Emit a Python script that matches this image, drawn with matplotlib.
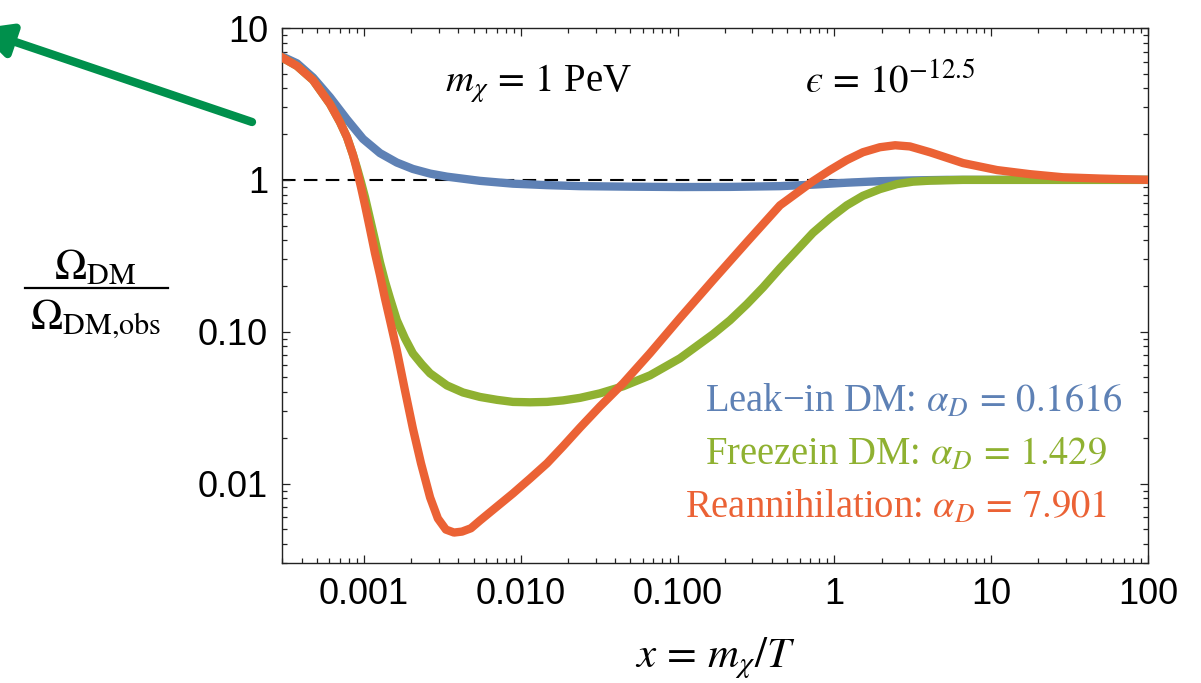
import matplotlib
matplotlib.use("Agg")
import matplotlib.pyplot as plt
from matplotlib.lines import Line2D
from matplotlib.ticker import LogLocator, NullFormatter

plt.rcParams['mathtext.fontset'] = 'stix'

# curves: x = m_chi/T, y = Omega_DM / Omega_DM,obs
leak_x = [3.0e-4, 3.74e-4, 4.73e-4, 6.07e-4, 7.79e-4, 9.86e-4, 1.265e-3, 1.62e-3,
          2.05e-3, 2.64e-3, 3.38e-3, 5.49e-3, 8.91e-3, 0.0147, 0.0239, 0.0497,
          0.1035, 0.216, 0.45, 0.73, 1.2, 1.95, 3.17, 5.22, 100]
leak_y = [6.5, 5.85, 4.72, 3.5, 2.5, 1.86, 1.5, 1.3,
          1.18, 1.1, 1.05, 0.985, 0.944, 0.923, 0.909, 0.902,
          0.897, 0.899, 0.909, 0.93, 0.958, 0.98, 0.992, 1.0, 1.0]

freeze_x = [3.0e-4, 3.74e-4, 4.73e-4, 6.07e-4, 7.03e-4, 7.79e-4, 8.51e-4, 9.02e-4,
            9.57e-4, 1.015e-3, 1.09e-3, 1.175e-3, 1.265e-3, 1.36e-3, 1.465e-3,
            1.62e-3, 1.825e-3, 2.05e-3, 2.34e-3, 2.64e-3, 3.38e-3, 4.28e-3,
            5.49e-3, 7.05e-3, 8.91e-3, 0.01146, 0.0147, 0.0186, 0.0239, 0.032,
            0.0449, 0.0667, 0.1035, 0.168, 0.216, 0.277, 0.351, 0.45, 0.577,
            0.73, 0.938, 1.2, 1.52, 1.95, 2.51, 3.17, 4.07, 6.61, 100]
freeze_y = [6.4, 5.62, 4.54, 3.16, 2.4, 1.91, 1.46, 1.2,
            0.966, 0.769, 0.56, 0.401, 0.286, 0.215, 0.166,
            0.119, 0.0904, 0.072, 0.0609, 0.0532, 0.0443, 0.0398,
            0.0372, 0.0356, 0.0345, 0.0343, 0.0345, 0.0353, 0.0367, 0.0393,
            0.0437, 0.0516, 0.0668, 0.0962, 0.119, 0.152, 0.196, 0.262, 0.345,
            0.448, 0.56, 0.68, 0.785, 0.869, 0.938, 0.973, 0.988, 1.0, 1.0]

reann_x = [3.0e-4, 3.74e-4, 4.73e-4, 6.07e-4, 7.03e-4, 7.79e-4, 8.51e-4, 9.02e-4,
           9.57e-4, 1.015e-3, 1.09e-3, 1.175e-3, 1.265e-3, 1.36e-3, 1.465e-3,
           1.62e-3, 1.825e-3, 2.05e-3, 2.31e-3, 2.64e-3, 2.96e-3, 3.33e-3,
           3.75e-3, 4.22e-3, 4.81e-3, 5.49e-3, 7.05e-3, 8.91e-3, 0.01146,
           0.0147, 0.0186, 0.0239, 0.032, 0.0449, 0.0667, 0.1035, 0.168, 0.277,
           0.45, 0.73, 0.938, 1.2, 1.52, 1.95, 2.44, 3.03, 4.07, 6.61, 10.9,
           17.7, 28.7, 49.4, 100]
reann_y = [6.4, 5.62, 4.54, 3.16, 2.4, 1.91, 1.46, 1.16,
           0.895, 0.681, 0.48, 0.329, 0.236, 0.166, 0.119,
           0.0753, 0.0411, 0.0231, 0.0136, 0.0081, 0.00589, 0.00498,
           0.00476, 0.00483, 0.00508, 0.00571, 0.00706, 0.00861, 0.0108,
           0.0136, 0.0176, 0.0234, 0.0322, 0.0457, 0.0722, 0.123, 0.218, 0.39,
           0.68, 0.98, 1.16, 1.35, 1.52, 1.64, 1.69, 1.66, 1.52, 1.29, 1.16,
           1.09, 1.04, 1.02, 1.0]

x_ticks = [1e-3, 1e-2, 1e-1, 1, 10, 100]
x_tick_labels = ['0.001', '0.010', '0.100', '1', '10', '100']
y_ticks = [0.01, 0.1, 1, 10]
y_tick_labels = ['0.01', '0.10', '1', '10']

labels = ['Leak\u2212in DM: $\\alpha_D\\,=\\,0.1616$',
          'Freezein DM: $\\alpha_D\\,=\\,1.429$',
          'Reannihilation: $\\alpha_D\\,=\\,7.901$']
colors = ['#5E81B5', '#8FB131', '#EB6235']

W, H = 1201, 683
fig = plt.figure(figsize=(W / 100, H / 100), dpi=100)
ax = fig.add_axes([282 / W, (H - 563) / H, (1148 - 282) / W, (563 - 28) / H])

ax.axhline(1.0, color='black', lw=1.5, linestyle=(0, (6.5, 4)), zorder=1)
ax.plot(leak_x, leak_y, color=colors[0], lw=6, solid_joinstyle='round', zorder=2)
ax.plot(freeze_x, freeze_y, color=colors[1], lw=6, solid_joinstyle='round', zorder=3)
ax.plot(reann_x, reann_y, color=colors[2], lw=6, solid_joinstyle='round', zorder=4)

ax.set_xscale('log')
ax.set_yscale('log')
ax.set_xlim(3e-4, 100)
ax.set_ylim(3e-3, 10)

ax.set_xticks(x_ticks, x_tick_labels)
ax.set_yticks(y_ticks, y_tick_labels)
ax.xaxis.set_minor_locator(LogLocator(base=10, subs=range(2, 10), numticks=20))
ax.yaxis.set_minor_locator(LogLocator(base=10, subs=range(2, 10), numticks=20))
ax.xaxis.set_minor_formatter(NullFormatter())
ax.yaxis.set_minor_formatter(NullFormatter())
ax.tick_params(which='both', direction='in', top=True, right=True, width=0.9, color='#222222')
ax.tick_params(which='major', length=6, labelsize=26, pad=10)
ax.tick_params(which='minor', length=3.5)
for lab in ax.get_xticklabels() + ax.get_yticklabels():
    lab.set_family('Liberation Sans')
for s in ax.spines.values():
    s.set_linewidth(1.0)
    s.set_color('#222222')

serif = 'Liberation Serif'
fig.text(445 / W, 1 - 92 / H, r'$m_\chi\,=\,1$ PeV', fontsize=28, family=serif, va='baseline')
fig.text(805 / W, 1 - 92 / H, '$\u03f5\\,=\\,10^{-12.5}$', fontsize=28, family=serif,
         va='baseline')
for lab, c, xl, yb in zip(labels, colors, [705, 705, 685], [412, 465, 518]):
    fig.text(xl / W, 1 - yb / H, lab, fontsize=27.8, family=serif, color=c,
             ha='left', va='baseline')

fig.text(715 / W, 1 - 667 / H, r'$x\,=\,m_\chi/T$', fontsize=31, ha='center', va='baseline')

# y label drawn as a stacked fraction
fig.text(95 / W, 1 - 279 / H, r'$\Omega_{\mathrm{DM}}$', fontsize=31, ha='center', va='baseline')
fig.text(96 / W, 1 - 329 / H, r'$\Omega_{\mathrm{DM}{,}\mathrm{obs}}$', fontsize=31,
         ha='center', va='baseline')
fig.add_artist(Line2D([25 / W, 168 / W], [1 - 288 / H, 1 - 288 / H], color='black', lw=1.6))

# green arrow pointing off to the upper left
ax.annotate('', xy=(-23, H - 29), xytext=(252, H - 122), xycoords='figure pixels',
            textcoords='figure pixels',
            arrowprops=dict(arrowstyle='-|>,head_length=20,head_width=10', mutation_scale=1,
                            lw=6, color='#00904C', shrinkA=0, shrinkB=0))

fig.savefig('out.png', dpi=100)
